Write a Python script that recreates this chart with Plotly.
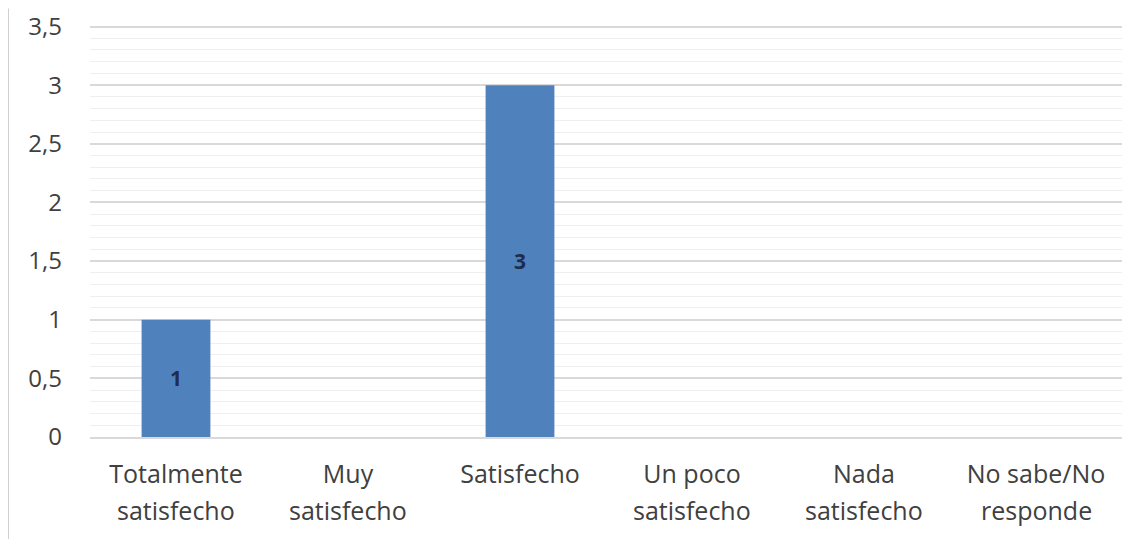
import plotly.graph_objects as go

categories = ["Totalmente satisfecho", "Muy satisfecho", "Satisfecho",
              "Un poco satisfecho", "Nada satisfecho", "No sabe/No responde"]
line1 = ["Totalmente", "Muy", "Satisfecho", "Un poco", "Nada", "No sabe/No"]
line2 = ["satisfecho", "satisfecho", "", "satisfecho", "satisfecho", "responde"]
values = [1, 0, 3, 0, 0, 0]
labels = ["1", "", "3", "", "", ""]
y_ticks = [0, 0.5, 1, 1.5, 2, 2.5, 3, 3.5]

FONT = "Open Sans, Liberation Sans, sans-serif"
TXT = "#404040"

T, B = 14.5, 110
PW, PH = 1032, 539 - T - B  # plot area size in px

fig = go.Figure()
fig.add_trace(go.Bar(
    x=categories, y=values, width=0.4,
    marker=dict(color="#4F81BD", line=dict(width=0)),
    text=labels, textposition="inside", insidetextanchor="middle",
    textangle=0,
    textfont=dict(family=FONT, size=21, color="#1F2D4D", weight="bold"),
    constraintext="none",
))

for c, t in zip(categories, line2):
    if t:
        fig.add_annotation(x=c, xref="x", y=-73 / PH, yref="paper",
                           text=t, showarrow=False, yanchor="middle",
                           font=dict(family=FONT, size=25, color=TXT))

# left image border
fig.add_shape(type="line", xref="paper", yref="paper",
              x0=-81.5 / PW, x1=-81.5 / PW, y0=-B / PH, y1=1 + T / PH,
              line=dict(color="#d0d0d0", width=1))

fig.update_layout(
    width=1145, height=539,
    margin=dict(l=82, r=31, t=T, b=B),
    paper_bgcolor="white", plot_bgcolor="white",
    separators=",.",
    showlegend=False,
    font=dict(family=FONT, size=25, color=TXT),
)
fig.update_xaxes(
    tickvals=categories, ticktext=line1, automargin=False,
    showgrid=False, showline=True, linecolor="#d9d9d9", linewidth=1.5,
    ticks="", tickfont=dict(family=FONT, size=25, color=TXT),
    ticklabelstandoff=14,
)
fig.update_yaxes(
    range=[0, 3.53], tickvals=y_ticks, automargin=False,
    showgrid=True, gridcolor="#d9d9d9", gridwidth=1.5,
    minor=dict(tick0=0, dtick=0.1, showgrid=True, gridcolor="#efefef", gridwidth=1),
    zeroline=False, showline=False, ticks="",
    tickfont=dict(family=FONT, size=24, color=TXT),
    ticklabelstandoff=27,
)

fig.write_html("out.html")
